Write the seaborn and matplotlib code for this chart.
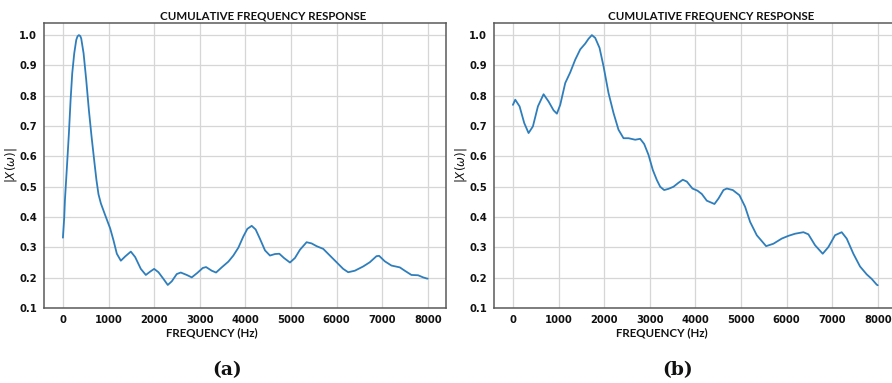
import matplotlib
matplotlib.use("Agg")
import matplotlib.pyplot as plt
import seaborn as sns

# Panel (a): normalised cumulative magnitude response
freq_a = [0, 29, 44, 66, 88, 131, 168, 204, 248, 292, 320, 350, 380, 401, 453,
          511, 569, 628, 693, 735, 780, 832, 927, 1037, 1109, 1182, 1270, 1365,
          1489, 1584, 1708, 1818, 1913, 2000, 2095, 2204, 2299, 2387, 2496, 2584,
          2715, 2825, 2949, 3066, 3139, 3263, 3358, 3482, 3628, 3737, 3847, 3956,
          4044, 4139, 4226, 4321, 4431, 4540, 4650, 4745, 4847, 4978, 5088, 5197,
          5343, 5453, 5562, 5708, 5854, 6000, 6146, 6255, 6401, 6584, 6730, 6876,
          6934, 7058, 7204, 7387, 7496, 7642, 7788, 7898, 7985, 8000]
mag_a = [0.332, 0.40, 0.456, 0.511, 0.566, 0.676, 0.786, 0.874, 0.940, 0.984,
         0.996, 1.0, 0.997, 0.989, 0.940, 0.852, 0.753, 0.665, 0.577, 0.522,
         0.475, 0.445, 0.406, 0.362, 0.323, 0.279, 0.256, 0.270, 0.286, 0.268,
         0.229, 0.209, 0.220, 0.229, 0.218, 0.196, 0.176, 0.188, 0.212, 0.217,
         0.209, 0.201, 0.216, 0.232, 0.235, 0.223, 0.217, 0.234, 0.253, 0.273,
         0.299, 0.336, 0.361, 0.371, 0.359, 0.328, 0.290, 0.273, 0.278, 0.279,
         0.265, 0.250, 0.265, 0.292, 0.317, 0.313, 0.304, 0.295, 0.273, 0.251,
         0.229, 0.218, 0.223, 0.237, 0.251, 0.271, 0.272, 0.254, 0.240, 0.234,
         0.223, 0.209, 0.208, 0.201, 0.197, 0.197]

# Panel (b): normalised cumulative magnitude response
freq_b = [0, 51, 146, 248, 343, 438, 548, 672, 782, 891, 964, 1037, 1147, 1256,
          1366, 1476, 1585, 1658, 1731, 1804, 1899, 1987, 2096, 2206, 2315, 2425,
          2535, 2681, 2790, 2878, 2973, 3068, 3156, 3229, 3316, 3411, 3521, 3630,
          3725, 3813, 3937, 4047, 4142, 4251, 4419, 4507, 4617, 4690, 4821, 4967,
          5091, 5201, 5347, 5552, 5712, 5895, 6041, 6187, 6370, 6479, 6625, 6793,
          6917, 7063, 7209, 7319, 7465, 7611, 7757, 7867, 7977, 8000]
mag_b = [0.770, 0.787, 0.765, 0.710, 0.677, 0.699, 0.765, 0.805, 0.781, 0.752,
         0.741, 0.770, 0.842, 0.877, 0.919, 0.953, 0.972, 0.988, 1.0, 0.991,
         0.958, 0.897, 0.809, 0.743, 0.688, 0.660, 0.660, 0.655, 0.658, 0.641,
         0.605, 0.555, 0.522, 0.500, 0.489, 0.493, 0.500, 0.513, 0.523, 0.517,
         0.494, 0.487, 0.476, 0.454, 0.443, 0.461, 0.489, 0.494, 0.489, 0.472,
         0.434, 0.384, 0.340, 0.304, 0.312, 0.329, 0.338, 0.345, 0.350, 0.343,
         0.307, 0.279, 0.301, 0.340, 0.350, 0.329, 0.279, 0.237, 0.211, 0.196,
         0.177, 0.175]

x_ticks = [0, 1000, 2000, 3000, 4000, 5000, 6000, 7000, 8000]
y_ticks = [0.1, 0.2, 0.3, 0.4, 0.5, 0.6, 0.7, 0.8, 0.9, 1.0]
title_text = "CUMULATIVE FREQUENCY RESPONSE"
xlabel_text = "FREQUENCY (Hz)"
ylabel_text = r"$|X(\omega)|$"
panel_tags = ["(a)", "(b)"]

sns.set_style("whitegrid")
plt.rcParams["font.family"] = ["DejaVu Sans"]

W, H = 892, 383
fig = plt.figure(figsize=(W / 100, H / 100), dpi=100)

line_color = "#2f7ebc"
spine_color = "#5a5a5a"
grid_color = "#d6d6d6"

axes_left_px = [44, 494]
title_x = [0.546, 0.540]
tag_x_px = [227, 678]
series = [(freq_a, mag_a), (freq_b, mag_b)]

for i, (fx, my) in enumerate(series):
    ax = fig.add_axes([axes_left_px[i] / W, (H - 308) / H, 402 / W, 285 / H])
    sns.lineplot(x=fx, y=my, ax=ax, color=line_color, linewidth=1.3)
    ax.set_xlim(-415, 8400)
    ax.set_ylim(0.1, 1.04)
    ax.set_xticks(x_ticks)
    ax.set_yticks(y_ticks)
    ax.set_xticklabels([str(t) for t in x_ticks], fontweight="bold", fontsize=7.2)
    ax.set_yticklabels([f"{t:.1f}" for t in y_ticks], fontweight="bold", fontsize=7.2)
    ax.tick_params(axis="both", length=3, width=0.8, color=spine_color,
                   pad=2, labelcolor="#111111")
    ax.grid(True, color=grid_color, linewidth=0.9)
    for s in ax.spines.values():
        s.set_color(spine_color)
        s.set_linewidth(1.1)
    ax.text(title_x[i], 1.0246, title_text, transform=ax.transAxes,
            ha="center", va="center", fontsize=8.3, fontweight="bold",
            family=["Lato", "DejaVu Sans"], color="#111111")
    ax.set_xlabel("")
    ax.text(0.418, -0.088, xlabel_text, transform=ax.transAxes,
            ha="center", va="center", fontsize=8.3, fontweight="bold",
            family=["Lato", "DejaVu Sans"], color="#111111")
    ax.set_ylabel(ylabel_text, fontsize=8.5, color="#111111")
    ax.yaxis.set_label_coords(-0.062, 0.5)
    fig.text(tag_x_px[i] / W, 1 - 370 / H, panel_tags[i], ha="center",
             va="center", fontsize=13.5, fontweight="bold",
             family=["DejaVu Serif"], color="#111111")

fig.savefig("out.png", dpi=100, facecolor="white")
